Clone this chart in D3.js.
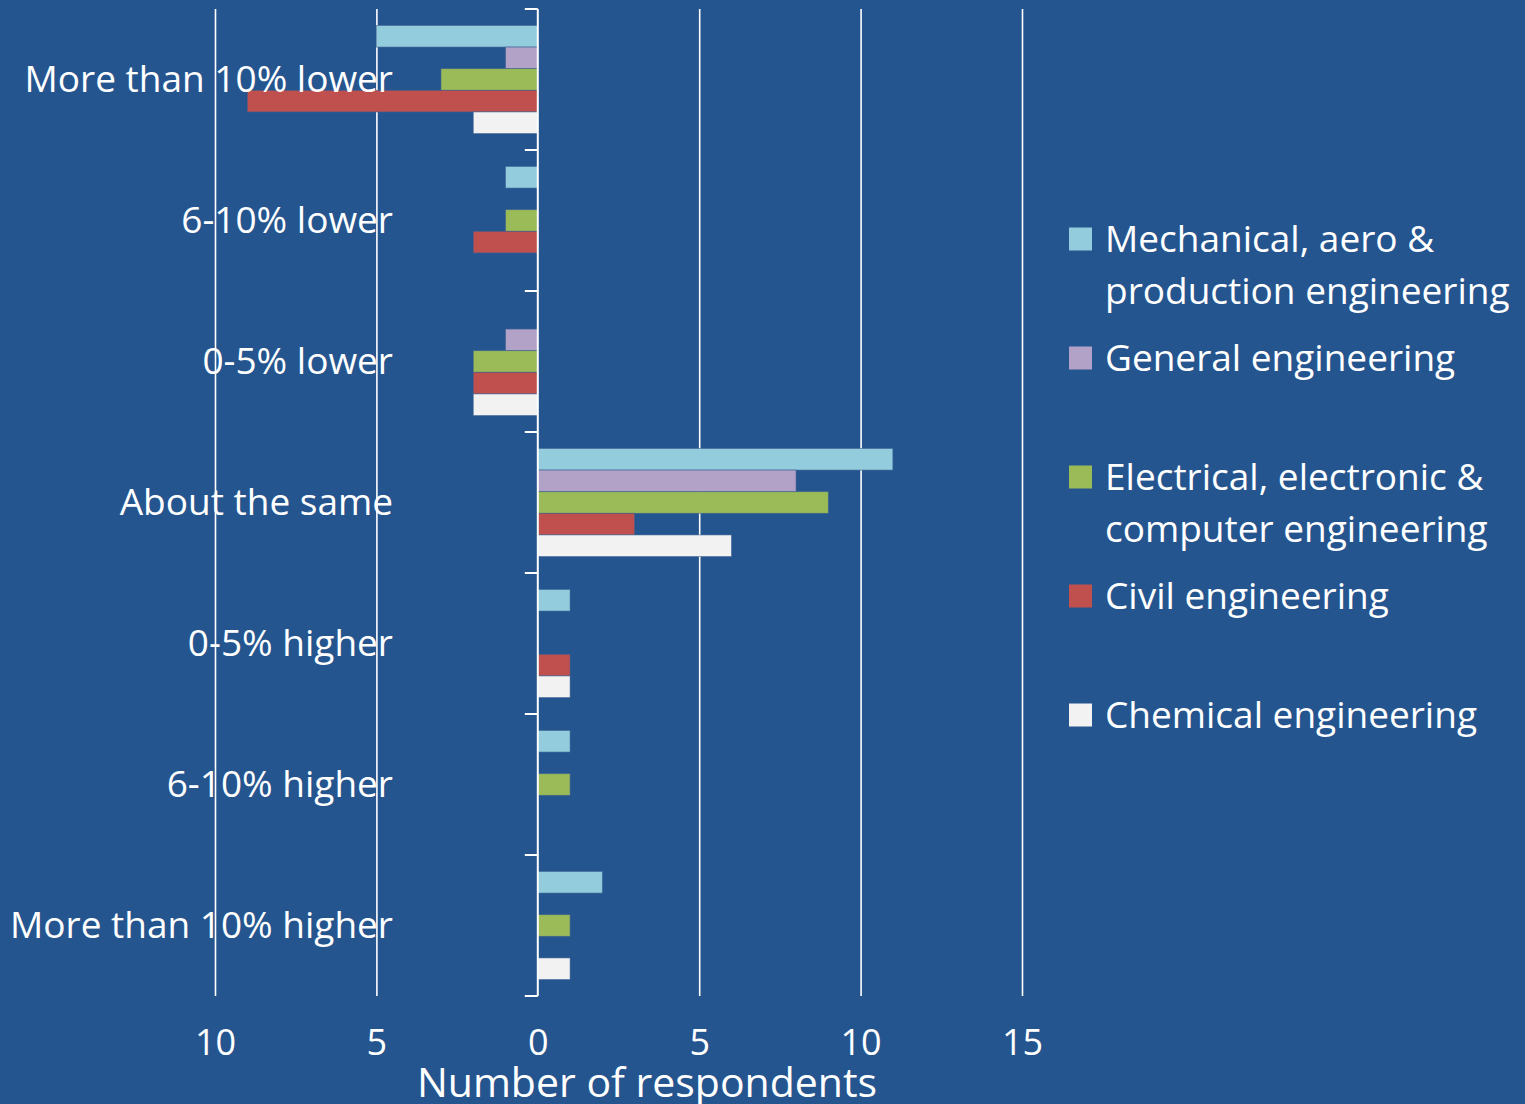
<!DOCTYPE html>
<html>
<head>
<meta charset="utf-8">
<script src="https://cdn.jsdelivr.net/npm/d3@7"></script>
<style>
    body { margin: 0; background: #25558f; }
    svg { display: block; }
    text { font-family: "Open Sans", sans-serif; fill: #ffffff; }
</style>
</head>
<body>
<svg id="chart" width="1525" height="1104"></svg>
<script>
// data (negative = "lower" answers drawn to the left)
var categories = ["More than 10% lower", "6-10% lower", "0-5% lower", "About the same",
    "0-5% higher", "6-10% higher", "More than 10% higher"]

var seriesNames = ["Mechanical, aero & production engineering", "General engineering",
    "Electrical, electronic & computer engineering", "Civil engineering", "Chemical engineering"]
var legendLines = [["Mechanical, aero &", "production engineering"], ["General engineering"],
    ["Electrical, electronic &", "computer engineering"], ["Civil engineering"], ["Chemical engineering"]]
var seriesColors = ["#93cddd", "#b3a2c7", "#9bbb59", "#c0504d", "#f2f2f2"]

var mechanical = [-5, -1, 0, 11, 1, 1, 2]
var general = [-1, 0, -1, 8, 0, 0, 0]
var electrical = [-3, -1, -2, 9, 0, 1, 1]
var civil = [-9, -2, -2, 3, 1, 0, 0]
var chemical = [-2, 0, -2, 6, 1, 0, 1]

var xTicks = [-10, -5, 0, 5, 10, 15]

// --------------------------------------------------------------------------------//
// SETUP
// --------------------------------------------------------------------------------//
var svg = d3.select('#chart')
var seriesValues = [mechanical, general, electrical, civil, chemical]

var plotTop = 9, plotBottom = 996

var x = d3.scaleLinear()
    .domain([-10, 15])
    .range([215, 1022])

var y0 = d3.scaleBand()
    .domain(categories)
    .range([plotTop, plotBottom])

var y1 = d3.scaleBand()
    .domain(seriesNames)
    .range([0, y0.bandwidth()])
    .paddingOuter(0.76)

var color = d3.scaleOrdinal()
    .domain(seriesNames)
    .range(seriesColors)

// gridlines (behind the bars)
var grid = svg.append("g")
    .attr("transform", "translate(0," + plotBottom + ")")
    .call(d3.axisBottom(x)
        .tickValues(xTicks.filter(function (d) { return d !== 0 }))
        .tickSize(-(plotBottom - plotTop))
        .tickFormat(""))
grid.select(".domain").remove()
grid.selectAll("line").attr("stroke", "#ffffff").attr("stroke-width", 1.6)

// --------------------------------------------------------------------------------//
// BARS
// --------------------------------------------------------------------------------//
var rows = []
seriesNames.forEach(function (s, i) {
    categories.forEach(function (c, j) {
        if (seriesValues[i][j] !== 0) rows.push({ series: s, category: c, value: seriesValues[i][j] })
    })
})

svg.append("g")
    .selectAll("rect")
    .data(rows)
    .enter()
    .append("rect")
    .attr("x", function (d) { return x(Math.min(0, d.value)) })
    .attr("y", function (d) { return y0(d.category) + y1(d.series) })
    .attr("width", function (d) { return Math.abs(x(d.value) - x(0)) })
    .attr("height", y1.bandwidth())
    .attr("fill", function (d) { return color(d.series) })
    .attr("stroke", "rgba(60,95,145,0.7)")
    .attr("stroke-width", 0.8)

// zero axis with ticks at the category boundaries
var zeroAxis = svg.append("g")
zeroAxis.append("line")
    .attr("x1", x(0)).attr("x2", x(0))
    .attr("y1", plotTop).attr("y2", plotBottom)
    .attr("stroke", "#ffffff")
    .attr("stroke-width", 2)

var boundaries = categories.map(function (c) { return y0(c) }).concat([plotBottom])
zeroAxis.selectAll(".cattick")
    .data(boundaries)
    .enter()
    .append("line")
    .attr("class", "cattick")
    .attr("x1", x(0) - 13).attr("x2", x(0))
    .attr("y1", function (d) { return d }).attr("y2", function (d) { return d })
    .attr("stroke", "#ffffff")
    .attr("stroke-width", 2)

// category labels
svg.append("g")
    .selectAll("text")
    .data(categories)
    .enter()
    .append("text")
    .attr("x", 393)
    .attr("y", function (d) { return y0(d) + y0.bandwidth() / 2 })
    .attr("dy", "0.35em")
    .attr("text-anchor", "end")
    .style("font-size", "37px")
    .text(function (d) { return d })

// x tick labels (absolute values)
var xAxisG = svg.append("g")
    .attr("transform", "translate(0,1029)")
    .call(d3.axisBottom(x)
        .tickValues(xTicks)
        .tickSize(0)
        .tickPadding(0)
        .tickFormat(function (d) { return Math.abs(d) }))
xAxisG.select(".domain").remove()
xAxisG.selectAll("text")
    .attr("fill", "#ffffff")
    .style("font-family", '"Open Sans", sans-serif')
    .style("font-size", "36px")

// axis title
svg.append('text')
    .attr('x', 647)
    .attr('y', 1097)
    .attr('text-anchor', 'middle')
    .style("font-size", "41px")
    .text('Number of respondents')

// --------------------------------------------------------------------------------//
// LEGEND
// --------------------------------------------------------------------------------//
var size = 23
var legendY = d3.scalePoint()
    .domain(seriesNames)
    .range([239, 715])

var legend = svg.append("g")
    .selectAll("g")
    .data(seriesNames)
    .enter()
    .append("g")
    .attr("transform", function (d) { return "translate(1069," + legendY(d) + ")" })

legend.append("rect")
    .attr("x", 0)
    .attr("y", -size / 2)
    .attr("width", size)
    .attr("height", size)
    .attr("fill", function (d) { return color(d) })

legend.append("text")
    .style("font-size", "37px")
    .selectAll("tspan")
    .data(function (d, i) { return legendLines[i] })
    .enter()
    .append("tspan")
    .attr("x", 36)
    .attr("y", function (d, i) { return i * 52 })
    .attr("dy", "0.35em")
    .text(function (d) { return d })
</script>
</body>
</html>
